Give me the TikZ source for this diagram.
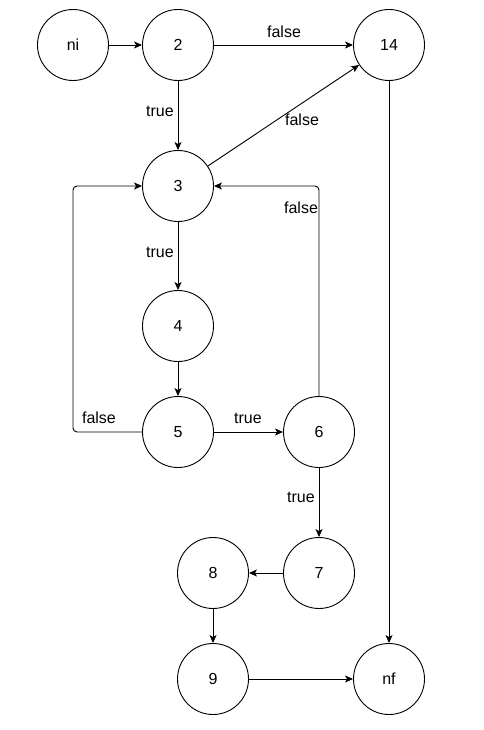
\documentclass[tikz,border=0pt]{standalone}
\usepackage{fontspec}
\setmainfont{Liberation Sans}
\usetikzlibrary{arrows.meta}
\begin{document}
\begin{tikzpicture}[x=1pt,y=-1pt,
  vnode/.style={circle,draw,line width=0.9pt,minimum size=71pt,inner sep=0pt,font=\fontsize{16}{19}\selectfont},
  conn/.style={draw,line width=0.9pt,-{Stealth[length=8pt,width=7pt,inset=2pt]}},
  lbl/.style={font=\fontsize{16}{19}\selectfont,inner sep=0pt}]
\useasboundingbox (0,0) rectangle (483,730);
\node[vnode] (ni) at (73,45) {ni};
\node[vnode] (n2) at (178,45) {2};
\node[vnode] (n14) at (389,45) {14};
\node[vnode] (n3) at (178,186) {3};
\node[vnode] (n4) at (178,326) {4};
\node[vnode] (n5) at (178,432) {5};
\node[vnode] (n6) at (319,432) {6};
\node[vnode] (n7) at (319,573) {7};
\node[vnode] (n8) at (213,573) {8};
\node[vnode] (n9) at (213,679) {9};
\node[vnode] (nf) at (389,679) {nf};
\coordinate (cl1) at (73,432);
\coordinate (cl2) at (73,186);
\coordinate (cr1) at (319,186);
\draw[conn] (ni) -- (n2);
\draw[conn] (n2) -- (n14);
\draw[conn] (n2) -- (n3);
\draw[conn] (n3) -- (n14);
\draw[conn] (n3) -- (n4);
\draw[conn] (n4) -- (n5);
\draw[conn] (n5) -- (n6);
\draw[conn,rounded corners=4pt] (n5.west) -- (cl1) -- (cl2) -- (n3.west);
\draw[conn,rounded corners=4pt] (n6.north) -- (cr1) -- (n3.east);
\draw[conn] (n6) -- (n7);
\draw[conn] (n7) -- (n8);
\draw[conn] (n8) -- (n9);
\draw[conn] (n9) -- (nf);
\draw[conn] (n14) -- (nf);
\node[lbl] (l1) at (284,32) {false};
\node[lbl] (l2) at (160,111) {true};
\node[lbl] (l3) at (302,120) {false};
\node[lbl] (l4) at (301,208) {false};
\node[lbl] (l5) at (160,252) {true};
\node[lbl] (l6) at (99,418) {false};
\node[lbl] (l7) at (248,418) {true};
\node[lbl] (l8) at (301,497) {true};
\end{tikzpicture}
\end{document}
